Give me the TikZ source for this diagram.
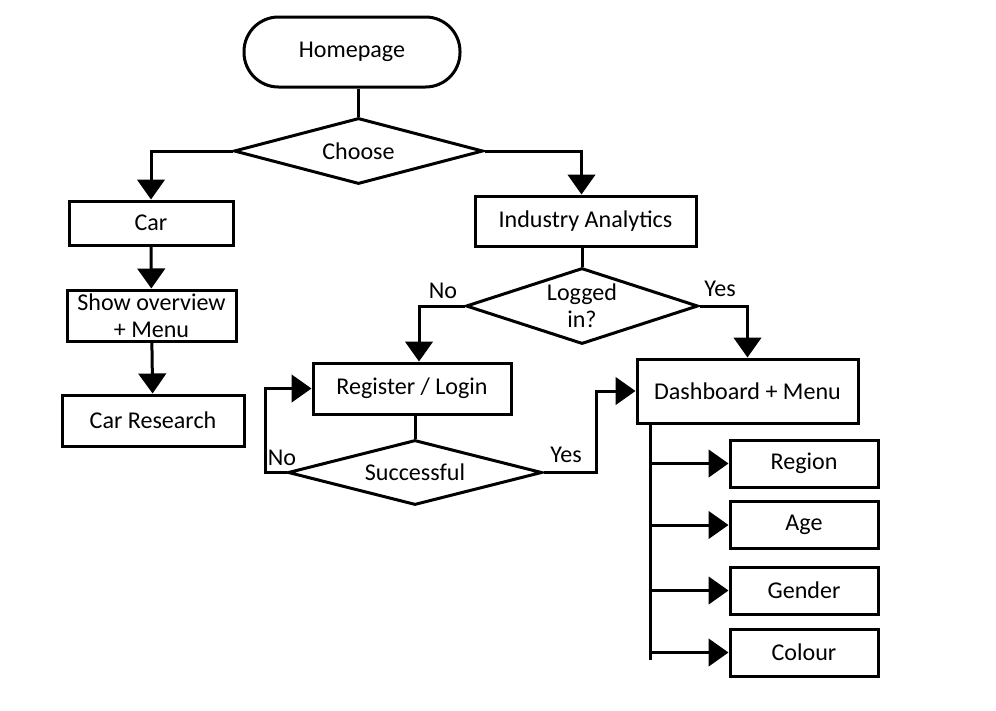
\documentclass[tikz,border=0pt]{standalone}
\usepackage{fontspec}
\setmainfont{Carlito}
\usetikzlibrary{shapes.geometric, arrows.meta}

\begin{document}
\begin{tikzpicture}[auto,
		line width = 0.06cm,
		every node/.style = {font = \fontsize{13.7}{15.5}\selectfont},
		box/.style = {draw, rectangle, inner sep = 0, align = center},
		choice/.style = {draw, diamond, inner sep = 0, align = center},
		arr/.style = {-{Triangle[width = 0.55cm, length = 0.4cm]}}]
		\useasboundingbox (0, 0) rectangle (19.92, -14.2);
		%%%%%%%%%%%%%
		\node [box, rounded corners = 0.69cm, minimum width = 4.32cm, minimum height = 1.4cm] (home) at (7.04, -1.04) {Homepage};
		\node [choice, aspect = 3.77, minimum width = 4.98cm, minimum height = 1.32cm] (choose) at (7.17, -3.02) {Choose};
		\node [box, minimum width = 3.28cm, minimum height = 0.88cm] (car) at (3.02, -4.46) {Car};
		\node [box, minimum width = 3.38cm, minimum height = 1.02cm] (overview) at (3.03, -6.31) {Show overview\\+ Menu};
		\node [box, minimum width = 3.64cm, minimum height = 1.02cm] (research) at (3.06, -8.41) {Car Research};
		\node [box, minimum width = 4.42cm, minimum height = 1.0cm] (industry) at (11.71, -4.42) {Industry Analytics};
		\node [choice, aspect = 3.05, minimum width = 4.64cm, minimum height = 1.52cm] (logged) at (11.64, -6.12) {Logged\\in?};
		\node [box, minimum width = 3.96cm, minimum height = 1.02cm] (register) at (8.24, -7.77) {Register / Login};
		\node [choice, aspect = 3.9, minimum width = 5.08cm, minimum height = 1.3cm] (success) at (8.3, -9.45) {Successful};
		\node [box, minimum width = 4.42cm, minimum height = 1.28cm] (dash) at (14.95, -7.82) {Dashboard + Menu};
		\node [box, minimum width = 2.96cm, minimum height = 0.94cm] (region) at (16.08, -9.27) {Region};
		\node [box, minimum width = 2.96cm, minimum height = 0.94cm] (age) at (16.08, -10.5) {Age};
		\node [box, minimum width = 2.96cm, minimum height = 0.94cm] (gender) at (16.08, -11.81) {Gender};
		\node [box, minimum width = 2.96cm, minimum height = 0.94cm] (colour) at (16.08, -13.05) {Colour};
		%%%%%%%%%%%%%
		\node (no1) at (8.86, -5.82) {No};
		\node (yes1) at (14.4, -5.78) {Yes};
		\node (no2) at (5.64, -9.16) {No};
		\node (yes2) at (11.32, -9.1) {Yes};
		%%%%%%%%%%%%%
		\draw (choose.north) to (choose.north |- home.south);
		\draw [arr] (choose.west) -| (car.north);
		\draw [arr] (choose.east) -| ([xshift = -0.08cm] industry.north);
		\draw [arr] (car) to (overview);
		\draw [arr] (overview) to (research);
		\draw (industry.south -| logged.north) to (logged.north);
		\draw [arr] (logged.west) -| ([xshift = 0.14cm] register.north);
		\draw [arr] (logged.east) -| (dash.north);
		\draw (register.south -| success.north) to (success.north);
		\draw [arr] (success.west) -- ++(-0.42, 0) |- (register.west);
		\draw [arr] (success.east) -- ++(1.06, 0) |- (dash.west);
		\coordinate (bus) at (13.0, -8.46);
		\draw (bus) to (13.0, -13.2);
		\foreach \item in {region, age, gender, colour}
			\draw [arr] (bus |- \item.west) to (\item.west);
\end{tikzpicture}
\end{document}
